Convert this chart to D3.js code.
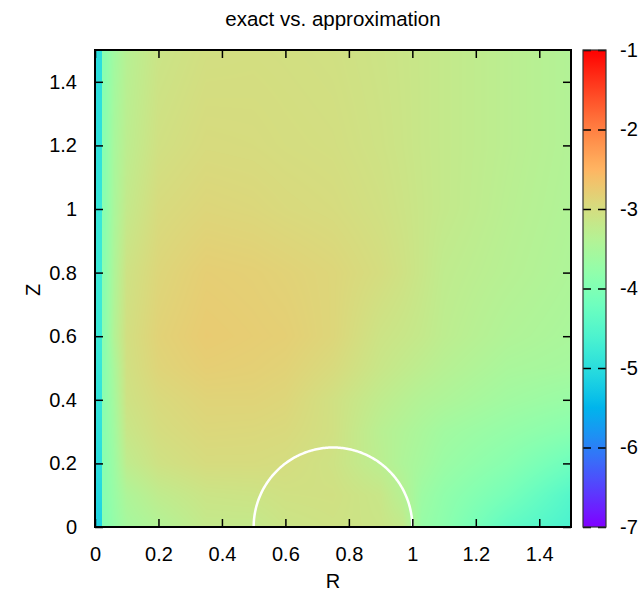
<!DOCTYPE html>
<html>
<head>
<meta charset="utf-8">
<script src="https://cdn.jsdelivr.net/npm/d3@7"></script>
<style>
  body { margin: 0; background: #fff; }
  svg { font-family: "Liberation Sans", Arial, sans-serif; }
</style>
</head>
<body>
<div id="chart"></div>
<script>
// grid of log10 error values
var rCols = [0.03, 0.06, 0.1, 0.2, 0.35, 0.5, 0.6, 0.75, 0.9, 0.97, 1.03, 1.1, 1.3, 1.5];
var zRows = [0, 0.1, 0.2, 0.3, 0.4, 0.5, 0.6, 0.8, 1.0, 1.2, 1.5];
var errGrid = [
  [-3.95, -3.75, -3.55, -3.4, -3.2, -3.2, -3.12, -3.08, -3.12, -3.2, -3.72, -3.85, -4.35, -4.62],
  [-3.9, -3.7, -3.45, -3.25, -3.12, -3.1, -3.06, -3.05, -3.15, -3.35, -3.65, -3.8, -4.1, -4.5],
  [-3.9, -3.65, -3.25, -3.07, -2.98, -2.98, -3.0, -3.08, -3.3, -3.45, -3.55, -3.68, -3.9, -4.2],
  [-3.88, -3.6, -3.15, -3.0, -2.92, -2.93, -2.95, -3.05, -3.33, -3.42, -3.5, -3.6, -3.75, -3.9],
  [-3.88, -3.55, -3.08, -2.95, -2.87, -2.87, -2.9, -3.05, -3.25, -3.33, -3.4, -3.45, -3.6, -3.7],
  [-3.88, -3.5, -3.05, -2.88, -2.8, -2.82, -2.85, -2.96, -3.15, -3.22, -3.28, -3.35, -3.5, -3.55],
  [-3.88, -3.4, -3.03, -2.85, -2.76, -2.79, -2.81, -2.9, -3.1, -3.15, -3.2, -3.28, -3.42, -3.5],
  [-3.88, -3.45, -3.08, -2.9, -2.8, -2.82, -2.85, -2.9, -3.0, -3.07, -3.15, -3.25, -3.35, -3.45],
  [-3.9, -3.5, -3.2, -2.97, -2.9, -2.92, -2.95, -2.98, -3.05, -3.1, -3.15, -3.2, -3.32, -3.42],
  [-3.9, -3.52, -3.28, -3.05, -2.97, -2.98, -3.0, -3.02, -3.08, -3.12, -3.16, -3.2, -3.3, -3.4],
  [-3.9, -3.6, -3.35, -3.12, -3.03, -3.02, -3.03, -3.05, -3.1, -3.13, -3.16, -3.2, -3.3, -3.4]
];
// values on the axis column (R = 0)
var axisZ = [0, 0.2, 0.4, 0.6, 0.8, 1.0, 1.2, 1.5];
var axisVals = [-5.15, -5.0, -4.9, -4.8, -4.8, -4.85, -4.95, -5.0];
var axisWidth = 0.022;

var xTicks = [0, 0.2, 0.4, 0.6, 0.8, 1, 1.2, 1.4];
var yTicks = [0, 0.2, 0.4, 0.6, 0.8, 1, 1.2, 1.4];
var cbTicks = [-7, -6, -5, -4, -3, -2, -1];
var sphere = { r0: 0.75, radius: 0.25 };

var svgWidth = 639, svgHeight = 592;
var margin = { top: 50, left: 95, right: 68, bottom: 65 };
var width = 571 - margin.left;
var height = 527 - margin.top;

var svg = d3.select("#chart").append("svg")
  .attr("width", svgWidth).attr("height", svgHeight);

var x = d3.scaleLinear().domain([0, 1.5]).range([margin.left, margin.left + width]);
var y = d3.scaleLinear().domain([0, 1.5]).range([margin.top + height, margin.top]);

// gnuplot rainbow palette (rgbformulae 33,13,10)
function rainbow(t) {
  var r = Math.min(1, Math.abs(2 * t - 0.5));
  var g = Math.sin(Math.PI * t);
  var b = Math.cos(Math.PI * t / 2);
  return [Math.round(255 * r), Math.round(255 * g), Math.round(255 * Math.max(0, b))];
}
var cbNorm = d3.scaleLinear().domain([-7, -1]).range([0, 1]).clamp(true);

// heat map drawn into a canvas, then placed in the svg
var canvas = document.createElement("canvas");
canvas.width = width; canvas.height = height;
var ctx = canvas.getContext("2d");
var img = ctx.createImageData(width, height);
var rowScales = errGrid.map(function(row) {
  return d3.scaleLinear().domain(rCols).range(row).clamp(true);
});
var axisScale = d3.scaleLinear().domain(axisZ).range(axisVals).clamp(true);
for (var px = 0; px < width; px++) {
  var R = x.invert(margin.left + px + 0.5);
  var colScale = d3.scaleLinear().domain(zRows).range(rowScales.map(function(s) { return s(R); })).clamp(true);
  for (var py = 0; py < height; py++) {
    var Z = y.invert(margin.top + py + 0.5);
    var v = R < axisWidth ? axisScale(Z) : colScale(Z);
    var c = rainbow(cbNorm(v));
    var k = (py * width + px) * 4;
    img.data[k] = c[0]; img.data[k + 1] = c[1]; img.data[k + 2] = c[2]; img.data[k + 3] = 255;
  }
}
ctx.putImageData(img, 0, 0);
svg.append("image")
  .attr("x", margin.left).attr("y", margin.top)
  .attr("width", width).attr("height", height)
  .attr("preserveAspectRatio", "none")
  .attr("href", canvas.toDataURL());

// sphere outline
var angles = d3.range(0, 181).map(function(a) { return a * Math.PI / 180; });
var arcLine = d3.line()
  .x(function(a) { return x(sphere.r0 + sphere.radius * Math.cos(a)); })
  .y(function(a) { return y(sphere.radius * Math.sin(a)); });
svg.append("path").datum(angles)
  .attr("d", arcLine)
  .attr("fill", "none").attr("stroke", "#fff").attr("stroke-width", 2.5);

// axes with inward ticks, mirrored
var fontSize = "20px";
function styleAxis(g) {
  g.select(".domain").remove();
  g.selectAll(".tick line").attr("stroke", "#000").attr("stroke-width", 1.5);
  g.selectAll(".tick text").attr("font-size", fontSize).attr("fill", "#000")
    .attr("font-family", "Liberation Sans, Arial, sans-serif");
}
svg.append("g").attr("transform", "translate(0," + (margin.top + height) + ")")
  .call(d3.axisBottom(x).tickValues(xTicks).tickFormat(d3.format("")).tickSizeInner(-8).tickPadding(20))
  .call(styleAxis);
svg.append("g").attr("transform", "translate(0," + margin.top + ")")
  .call(d3.axisTop(x).tickValues(xTicks).tickSizeInner(-8).tickFormat(""))
  .call(styleAxis);
svg.append("g").attr("transform", "translate(" + margin.left + ",0)")
  .call(d3.axisLeft(y).tickValues(yTicks).tickFormat(d3.format("")).tickSizeInner(-8).tickPadding(18))
  .call(styleAxis);
svg.append("g").attr("transform", "translate(" + (margin.left + width) + ",0)")
  .call(d3.axisRight(y).tickValues(yTicks).tickSizeInner(-8).tickFormat(""))
  .call(styleAxis);

svg.append("rect")
  .attr("x", margin.left).attr("y", margin.top)
  .attr("width", width).attr("height", height)
  .attr("fill", "none").attr("stroke", "#000").attr("stroke-width", 2);

// colour box
var cbX = 583, cbW = 23;
var cbY = d3.scaleLinear().domain([-7, -1]).range([margin.top + height, margin.top]);
var defs = svg.append("defs");
var grad = defs.append("linearGradient").attr("id", "cbgrad")
  .attr("x1", 0).attr("y1", 1).attr("x2", 0).attr("y2", 0);
d3.range(0, 61).forEach(function(i) {
  var t = i / 60, c = rainbow(t);
  grad.append("stop").attr("offset", t)
    .attr("stop-color", "rgb(" + c[0] + "," + c[1] + "," + c[2] + ")");
});
svg.append("rect")
  .attr("x", cbX).attr("y", cbY(-1))
  .attr("width", cbW).attr("height", cbY(-7) - cbY(-1))
  .attr("fill", "url(#cbgrad)");
svg.append("g").attr("transform", "translate(" + cbX + ",0)")
  .call(d3.axisRight(cbY).tickValues(cbTicks).tickSizeInner(8).tickFormat(""))
  .call(styleAxis);
svg.append("g").attr("transform", "translate(" + (cbX + cbW) + ",0)")
  .call(d3.axisRight(cbY).tickValues(cbTicks).tickSizeInner(-8).tickPadding(14).tickFormat(d3.format("")))
  .call(styleAxis);
svg.selectAll("g").selectAll(".tick text").text(function() { return this.textContent.replace("\u2212", "-"); });
svg.append("rect")
  .attr("x", cbX).attr("y", cbY(-1))
  .attr("width", cbW).attr("height", cbY(-7) - cbY(-1))
  .attr("fill", "none").attr("stroke", "#333").attr("stroke-width", 1.2);

// titles
svg.append("text").attr("x", 333).attr("y", 26).attr("text-anchor", "middle")
  .attr("font-size", "20.5px").text("exact vs. approximation");
svg.append("text").attr("x", 333).attr("y", 588).attr("text-anchor", "middle")
  .attr("font-size", fontSize).text("R");
svg.append("text").attr("transform", "translate(40,290) rotate(-90)").attr("text-anchor", "middle")
  .attr("font-size", fontSize).text("Z");
</script>
</body>
</html>
